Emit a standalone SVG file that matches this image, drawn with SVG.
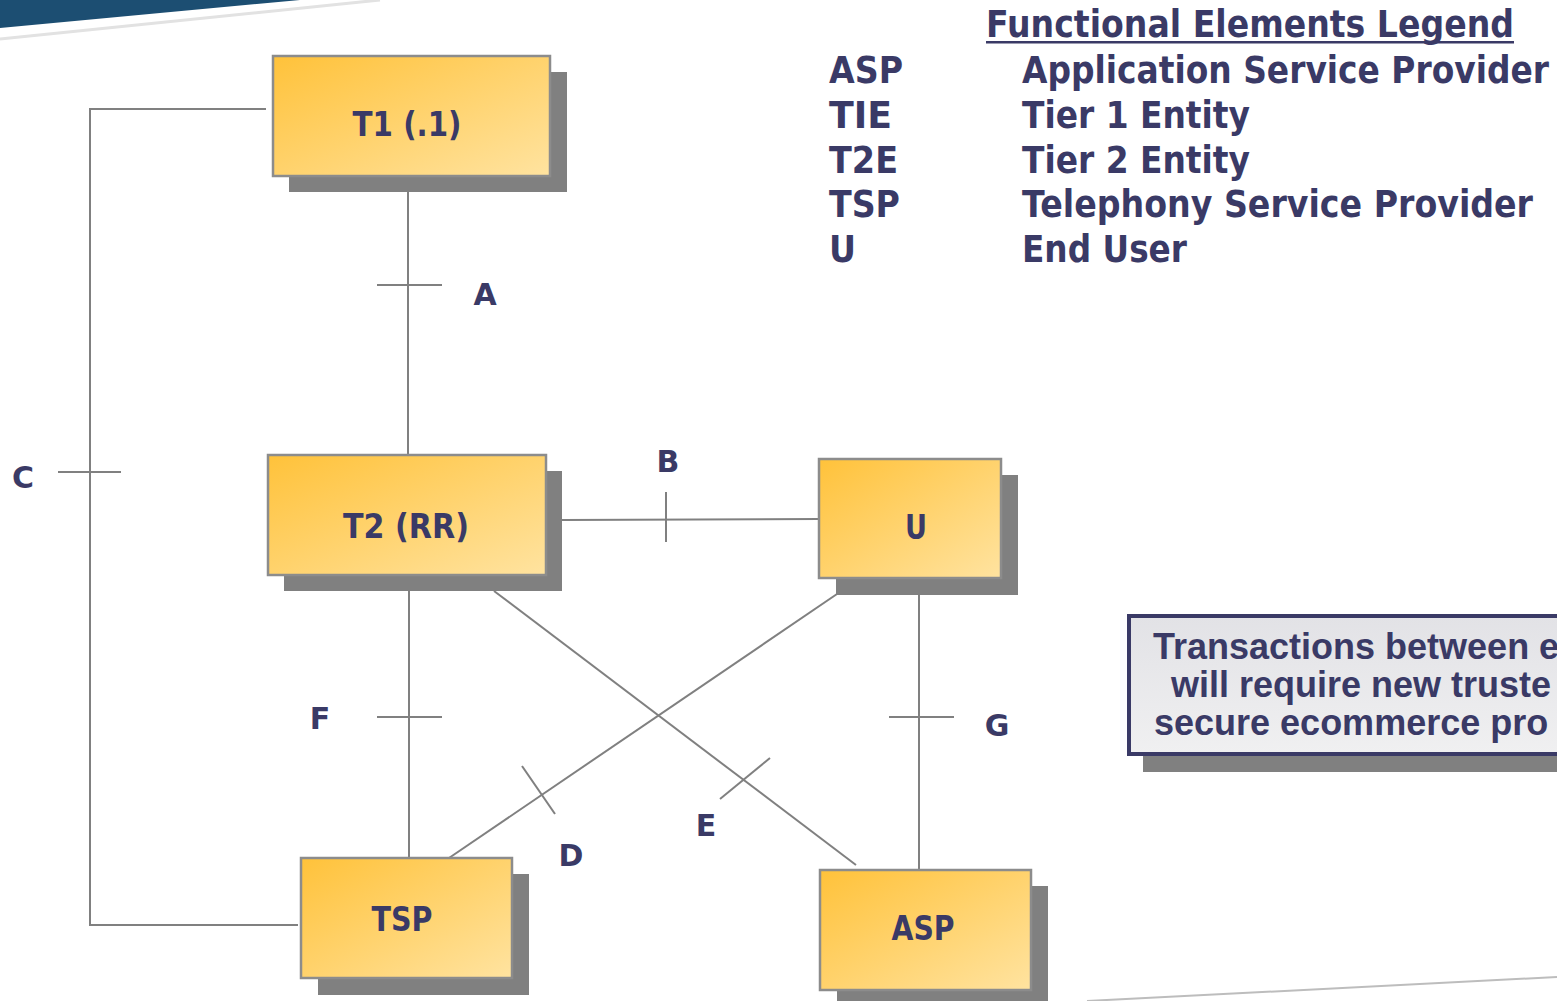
<svg xmlns="http://www.w3.org/2000/svg" width="1557" height="1001" viewBox="0 0 1557 1001">
<defs>
<linearGradient id="nodeFill" x1="0" y1="0" x2="1" y2="1">
<stop offset="0" stop-color="#ffc23a"/>
<stop offset="1" stop-color="#ffe3a0"/>
</linearGradient>
<linearGradient id="noteFill" x1="0" y1="0" x2="0" y2="1">
<stop offset="0" stop-color="#e2e2e6"/>
<stop offset="1" stop-color="#f0f0f1"/>
</linearGradient>
</defs>
<style>
.shadow{fill:#808080;}
.box{fill:url(#nodeFill);stroke:#8c8c8c;stroke-width:2.5;}
.lbl{font-family:"DejaVu Sans",Verdana,sans-serif;font-weight:bold;fill:#3a3a66;text-anchor:middle;}
.node{font-size:33px;}
.edge{font-size:30px;}
.conn{stroke:#808080;stroke-width:2;fill:none;}
.leg{font-family:"DejaVu Sans",Verdana,sans-serif;font-weight:bold;fill:#3a3a66;font-size:37px;}
.note{font-family:"Liberation Sans",Arial,sans-serif;font-weight:bold;fill:#3a3a66;font-size:36px;}
</style>
<rect width="1557" height="1001" fill="#ffffff"/>
<!-- decorative banner -->
<polygon points="0,0 300,0 0,28" fill="#1c4e72"/>
<line x1="0" y1="39" x2="380" y2="0" stroke="#e2e2e2" stroke-width="3"/>
<line x1="1087" y1="1001" x2="1557" y2="977" stroke="#bdbdbd" stroke-width="2"/>

<g id="connectors">
<line class="conn" x1="408" y1="192" x2="408" y2="455"/>
<line class="conn" x1="377" y1="285" x2="442" y2="285"/>
<polyline class="conn" points="266,109 90,109 90,925 298,925"/>
<line class="conn" x1="58" y1="472" x2="121" y2="472"/>
<line class="conn" x1="562" y1="520" x2="819" y2="519"/>
<line class="conn" x1="666" y1="492" x2="666" y2="542"/>
<line class="conn" x1="409" y1="591" x2="409" y2="858"/>
<line class="conn" x1="377" y1="717" x2="442" y2="717"/>
<line class="conn" x1="919" y1="595" x2="919" y2="870"/>
<line class="conn" x1="889" y1="717" x2="954" y2="717"/>
<line class="conn" x1="494" y1="591" x2="856" y2="865"/>
<line class="conn" x1="720" y1="799" x2="770" y2="758"/>
<line class="conn" x1="837" y1="594" x2="449" y2="858"/>
<line class="conn" x1="522" y1="766" x2="555" y2="814"/>
<text class="lbl edge" x="485" y="305">A</text>
<text class="lbl edge" x="668" y="472">B</text>
<text class="lbl edge" x="23" y="488">C</text>
<text class="lbl edge" x="571" y="866">D</text>
<text class="lbl edge" x="706" y="836">E</text>
<text class="lbl edge" x="320" y="729">F</text>
<text class="lbl edge" x="997" y="736">G</text>
</g>

<g id="T1">
<rect class="shadow" x="289" y="72" width="278" height="120"/>
<rect class="box" x="273" y="56" width="277" height="120"/>
<text class="lbl node" x="407" y="136" textLength="109" lengthAdjust="spacingAndGlyphs">T1 (.1)</text>
</g>
<g id="T2">
<rect class="shadow" x="284" y="471" width="278" height="120"/>
<rect class="box" x="268" y="455" width="278" height="120"/>
<text class="lbl node" x="406" y="538" textLength="126" lengthAdjust="spacingAndGlyphs">T2 (RR)</text>
</g>
<g id="U">
<rect class="shadow" x="836" y="475" width="182" height="120"/>
<rect class="box" x="819" y="459" width="182" height="119"/>
<text class="lbl node" x="916" y="539" textLength="22" lengthAdjust="spacingAndGlyphs">U</text>
</g>
<g id="TSP">
<rect class="shadow" x="318" y="874" width="211" height="121"/>
<rect class="box" x="301" y="858" width="211" height="120"/>
<text class="lbl node" x="402" y="931" textLength="61" lengthAdjust="spacingAndGlyphs">TSP</text>
</g>
<g id="ASP">
<rect class="shadow" x="837" y="886" width="211" height="115"/>
<rect class="box" x="820" y="870" width="211" height="120"/>
<text class="lbl node" x="923" y="940" textLength="63" lengthAdjust="spacingAndGlyphs">ASP</text>
</g>

<g id="legend">
<text class="leg" x="986" y="37" textLength="528" lengthAdjust="spacingAndGlyphs">Functional Elements Legend</text>
<rect x="986" y="41" width="528" height="2.5" fill="#3a3a66"/>
<text class="leg" x="829" y="83" textLength="74" lengthAdjust="spacingAndGlyphs">ASP</text>
<text class="leg" x="829" y="128" textLength="63" lengthAdjust="spacingAndGlyphs">TIE</text>
<text class="leg" x="829" y="173" textLength="69" lengthAdjust="spacingAndGlyphs">T2E</text>
<text class="leg" x="829" y="217" textLength="71" lengthAdjust="spacingAndGlyphs">TSP</text>
<text class="leg" x="829" y="262" textLength="27" lengthAdjust="spacingAndGlyphs">U</text>
<text class="leg" x="1022" y="83" textLength="527" lengthAdjust="spacingAndGlyphs">Application Service Provider</text>
<text class="leg" x="1022" y="128" textLength="228" lengthAdjust="spacingAndGlyphs">Tier 1 Entity</text>
<text class="leg" x="1022" y="173" textLength="228" lengthAdjust="spacingAndGlyphs">Tier 2 Entity</text>
<text class="leg" x="1022" y="217" textLength="511" lengthAdjust="spacingAndGlyphs">Telephony Service Provider</text>
<text class="leg" x="1022" y="262" textLength="165" lengthAdjust="spacingAndGlyphs">End User</text>
</g>

<g id="note">
<rect class="shadow" x="1143" y="632" width="420" height="140"/>
<rect x="1129" y="616" width="440" height="138" fill="url(#noteFill)" stroke="#3a3a66" stroke-width="4"/>
<text class="note" x="1153" y="659">Transactions between e</text>
<text class="note" x="1171" y="697">will require new truste</text>
<text class="note" x="1154" y="735">secure ecommerce pro</text>
</g>
</svg>
